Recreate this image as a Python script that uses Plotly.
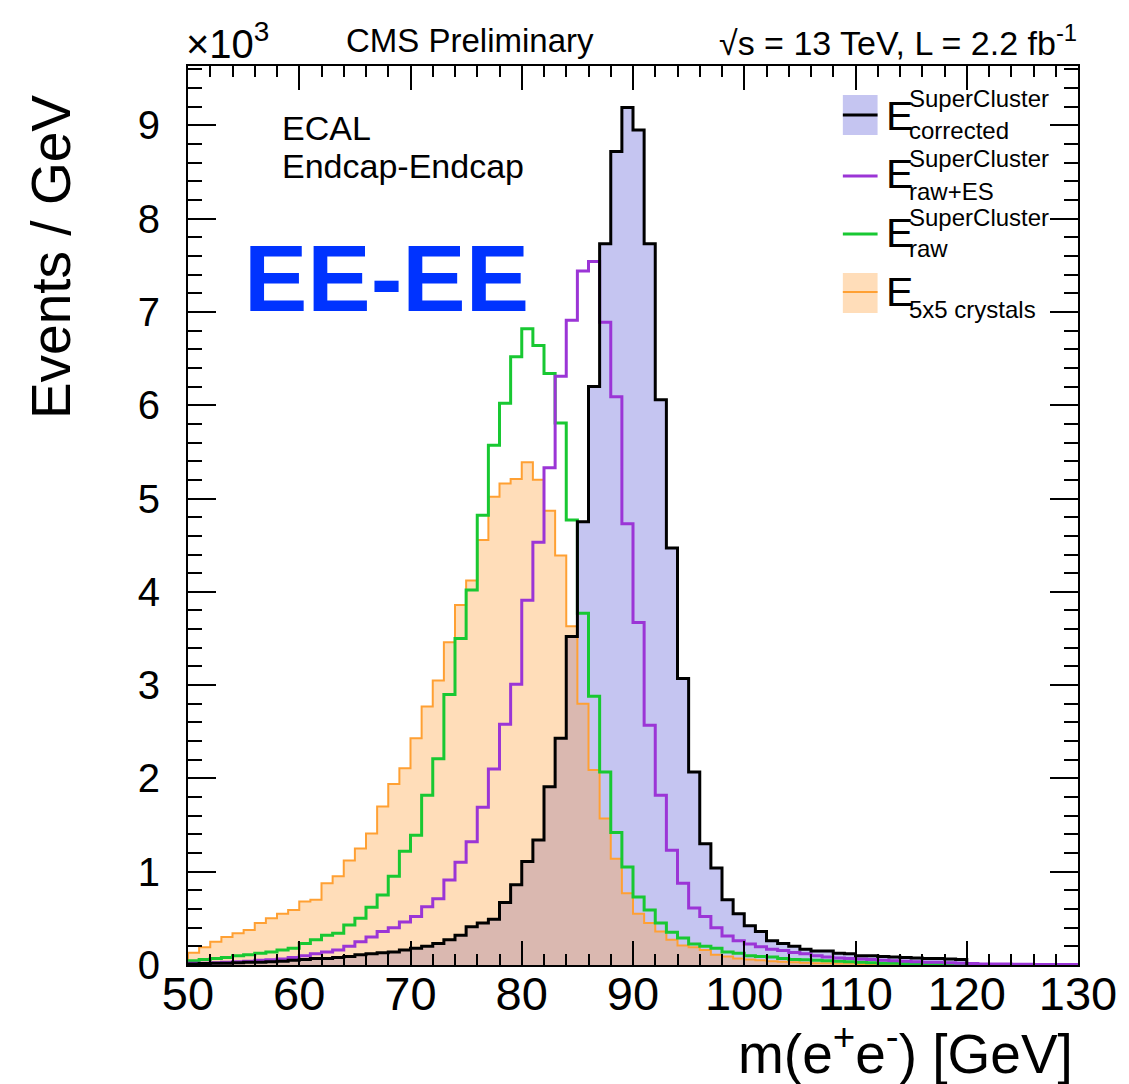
import numpy as np
import plotly.graph_objects as go

# ---------------- data (Events / GeV, in units of 10^3), 1 GeV bins starting at 50 GeV
bin_start = 50
bin_width = 1

corrected = [0.01, 0.015, 0.02, 0.02, 0.025, 0.03, 0.03, 0.035, 0.04, 0.05,
             0.06, 0.07, 0.07, 0.08, 0.09, 0.11, 0.12, 0.13, 0.14, 0.16,
             0.18, 0.20, 0.23, 0.27, 0.32, 0.41, 0.45, 0.49, 0.67, 0.86,
             1.11, 1.34, 1.91, 2.43, 3.52, 4.75, 6.20, 7.73, 8.72, 9.19,
             8.95, 7.73, 6.06, 4.47, 3.07, 2.07, 1.30, 1.04, 0.70, 0.55,
             0.42, 0.36, 0.26, 0.23, 0.20, 0.17, 0.15, 0.15, 0.125, 0.12,
             0.10, 0.10, 0.09, 0.085, 0.08, 0.075, 0.07, 0.07, 0.065, 0.06]

raw_es = [0.02, 0.02, 0.025, 0.03, 0.035, 0.04, 0.05, 0.055, 0.065, 0.08,
          0.10, 0.12, 0.14, 0.16, 0.20, 0.25, 0.30, 0.36, 0.40, 0.46,
          0.52, 0.625, 0.71, 0.91, 1.10, 1.32, 1.69, 2.10, 2.58, 3.01,
          3.91, 4.53, 5.33, 6.31, 6.91, 7.44, 7.54, 6.89, 6.09, 4.73,
          3.67, 2.57, 1.82, 1.23, 0.875, 0.61, 0.52, 0.40, 0.31, 0.26,
          0.225, 0.195, 0.17, 0.155, 0.135, 0.12, 0.10, 0.085, 0.075, 0.07,
          0.065, 0.06, 0.05, 0.045, 0.04, 0.035, 0.03, 0.03, 0.025, 0.02,
          0.015, 0.012, 0.01, 0.01, 0.008, 0.008, 0.006, 0.006, 0.005, 0.005]

raw = [0.046, 0.06, 0.07, 0.08, 0.10, 0.11, 0.125, 0.14, 0.16, 0.18,
       0.23, 0.27, 0.32, 0.34, 0.43, 0.50, 0.62, 0.75, 0.95, 1.22,
       1.39, 1.82, 2.21, 2.90, 3.50, 4.02, 4.82, 5.57, 6.02, 6.52,
       6.82, 6.64, 6.34, 5.81, 4.77, 3.77, 2.88, 2.07, 1.42, 1.05,
       0.73, 0.59, 0.45, 0.35, 0.29, 0.225, 0.20, 0.18, 0.14, 0.125,
       0.10, 0.09, 0.085, 0.07, 0.06, 0.055, 0.05, 0.045, 0.04, 0.035,
       0.03, 0.025, 0.02, 0.02, 0.015, 0.015, 0.01, 0.01, 0.01, 0.01]

crystals5x5 = [0.13, 0.19, 0.25, 0.30, 0.34, 0.375, 0.45, 0.50, 0.55, 0.59,
               0.68, 0.70, 0.875, 0.95, 1.12, 1.25, 1.41, 1.70, 1.94, 2.11,
               2.43, 2.77, 3.05, 3.46, 3.86, 4.12, 4.555, 5.02, 5.16, 5.21,
               5.39, 5.20, 4.87, 4.39, 3.63, 2.80, 2.09, 1.57, 1.14, 0.77,
               0.55, 0.45, 0.36, 0.27, 0.21, 0.19, 0.16, 0.11, 0.09, 0.07,
               0.06, 0.05, 0.04, 0.035, 0.03, 0.025, 0.02, 0.02, 0.015, 0.015,
               0.01, 0.01, 0.01, 0.008, 0.008, 0.006, 0.006, 0.005, 0.005, 0.005]

x_ticks = [50, 60, 70, 80, 90, 100, 110, 120, 130]
y_ticks = [0, 1, 2, 3, 4, 5, 6, 7, 8, 9]

# ---------------- styles
BLACK = "#000000"
PURPLE = "#9b35d6"
GREEN = "#18c832"
ORANGE = "#ffa033"
BLUE_FILL = "rgba(95,95,215,0.36)"
ORANGE_FILL = "rgba(255,160,60,0.36)"
FONT = "Liberation Sans, Arial, Helvetica, sans-serif"

W, H = 1129, 1084
L, R, T, B = 188, 44, 66, 119
PW, PH = W - L - R, H - T - B


def step_xy(values):
    n = len(values)
    edges = bin_start + bin_width * np.arange(n + 1)
    x = np.concatenate([[edges[0]], edges[:-1], [edges[-1]]])
    y = np.concatenate([[0.0], np.asarray(values, float), [0.0]])
    return x, y


def P(px, py):
    return (px - L) / PW, (H - B - py) / PH


fig = go.Figure()

# fills first
for vals, fc in [(corrected, BLUE_FILL), (crystals5x5, ORANGE_FILL)]:
    x, y = step_xy(vals)
    fig.add_trace(go.Scatter(x=x, y=y, mode="lines", line=dict(width=0, shape="hv"),
                             fill="tozeroy", fillcolor=fc, hoverinfo="skip",
                             showlegend=False))

# outlines
for vals, col, w in [(crystals5x5, ORANGE, 2), (raw, GREEN, 3), (raw_es, PURPLE, 3),
                     (corrected, BLACK, 3)]:
    x, y = step_xy(vals)
    fig.add_trace(go.Scatter(x=x, y=y, mode="lines", line=dict(color=col, width=w, shape="hv"),
                             showlegend=False))

fig.update_layout(
    width=W, height=H,
    margin=dict(l=L, r=R, t=T, b=B, pad=0),
    paper_bgcolor="white", plot_bgcolor="white",
    font=dict(family=FONT, color="black"),
    showlegend=False,
)

fig.update_xaxes(
    range=[50, 130], tickvals=x_ticks, ticktext=[str(v) for v in x_ticks],
    showgrid=False, zeroline=False,
    showline=True, linecolor="black", linewidth=2, mirror="ticks",
    ticks="inside", ticklen=24, tickwidth=2, tickcolor="black",
    minor=dict(dtick=2, ticks="inside", ticklen=11, tickwidth=1.5, tickcolor="black"),
    tickfont=dict(size=47, family=FONT), ticklabelstandoff=-13,
)
fig.update_yaxes(
    range=[0, 9.636], tickvals=y_ticks, ticktext=[str(v) for v in y_ticks],
    showgrid=False, zeroline=False,
    showline=True, linecolor="black", linewidth=2, mirror="ticks",
    ticks="inside", ticklen=28, tickwidth=2, tickcolor="black",
    minor=dict(dtick=0.2, ticks="inside", ticklen=14, tickwidth=1.5, tickcolor="black"),
    tickfont=dict(size=40, family=FONT), ticklabelstandoff=18,
)

ann = []


def text(px, py, s, size, xanchor="left", yanchor="middle", color="black", angle=0):
    x, y = P(px, py)
    ann.append(dict(x=x, y=y, xref="paper", yref="paper", text=s, showarrow=False,
                    xanchor=xanchor, yanchor=yanchor, textangle=angle,
                    font=dict(size=size, color=color, family=FONT)))


# header
text(184, 68, "×10<sup>3</sup>", 40, yanchor="bottom")
text(472, 40, "CMS Preliminary", 33, xanchor="center")
text(1086, 40, "√s = 13 TeV, L = 2.2 fb<sup>-1</sup>", 34, xanchor="right")

# labels inside plot
text(281, 128, "ECAL", 34)
text(281, 166, "Endcap-Endcap", 34)
text(242, 278, "<b>EE-EE</b>", 95, color="#0033ff")

# axis titles
text(50, 257, "Events / GeV", 55, xanchor="center", angle=-90)
text(1082, 1050, "m(e<sup>+</sup>e<sup>-</sup>) [GeV]", 55, xanchor="right")

# manual legend
shapes = []


def rect(x0, y0, x1, y1, fc):
    a0, b0 = P(x0, y1)
    a1, b1 = P(x1, y0)
    shapes.append(dict(type="rect", xref="paper", yref="paper", x0=a0, y0=b0, x1=a1, y1=b1,
                       fillcolor=fc, line=dict(width=0)))


def hline(x0, x1, yy, col, w):
    a0, b = P(x0, yy)
    a1, _ = P(x1, yy)
    shapes.append(dict(type="line", xref="paper", yref="paper", x0=a0, y0=b, x1=a1, y1=b,
                       line=dict(color=col, width=w)))


rect(848, 95, 883, 135, BLUE_FILL)
hline(848, 883, 115, BLACK, 3)
text(889, 116, "E", 41)
text(913, 98, "SuperCluster", 24)
text(913, 131, "corrected", 24)

hline(848, 883, 176, PURPLE, 3)
text(889, 174, "E", 41)
text(913, 158, "SuperCluster", 24)
text(913, 191, "raw+ES", 24)

hline(848, 883, 234, GREEN, 3)
text(889, 233, "E", 41)
text(913, 218, "SuperCluster", 24)
text(913, 248, "raw", 24)

rect(848, 273, 883, 313, ORANGE_FILL)
hline(848, 883, 292, ORANGE, 2)
text(889, 292, "E", 41)
text(913, 309, "5x5 crystals", 24)

fig.update_layout(annotations=ann, shapes=shapes)

fig.write_html("out.html")
